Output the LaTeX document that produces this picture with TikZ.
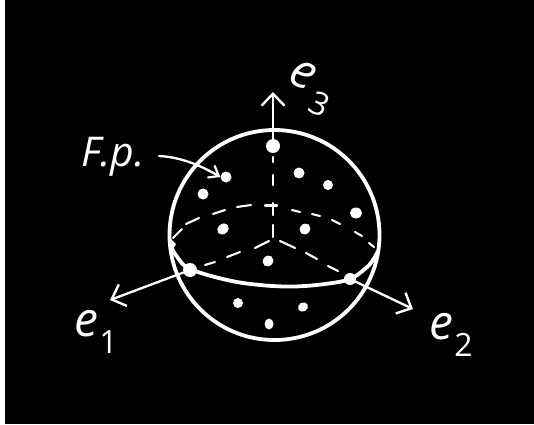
\documentclass[tikz,border=0pt]{standalone}
\usepackage{fontspec}
\setmainfont{Open Sans}
\usetikzlibrary{arrows.meta}
\tikzset{
  ink/.style={draw=white,line cap=round,line join=round},
  thick ink/.style={ink,line width=3.8pt},
  axisline/.style={ink,line width=2.3pt},
  dashes/.style={ink,line width=2.1pt},
  barb/.style={-{Straight Barb[length=12pt,width=23pt,line width=2.4pt]}},
  spot/.style={circle,fill=white,inner sep=0pt,minimum size=11pt},
  bigspot/.style={circle,fill=white,inner sep=0pt,minimum size=14pt},
  hand/.style={text=white,inner sep=0pt,font=\itshape\fontsize{48}{48}\selectfont}
}
\newcommand{\lowidx}[2][1pt]{\kern#1\raisebox{-.36em}{\fontsize{32}{32}\selectfont\upshape #2}}
\begin{document}
\begin{tikzpicture}[x=1pt,y=-1pt]
\useasboundingbox (0,0) rectangle (534,424);
\fill[white] (0,0) rectangle (5,424);
\fill[black] (5,0) rectangle (534,424);
% sphere
\node[circle,thick ink,minimum size=210pt,inner sep=0pt] (sphere) at (274.5,235) {};
% named points
\coordinate (o) at (273,238);
\node[bigspot] (top) at (273,146) {};
\node[bigspot] (left) at (190,270) {};
\node[bigspot,minimum size=12pt] (right) at (350,279) {};
\coordinate (tip3) at (273,92);
\coordinate (tip1) at (110,300);
\coordinate (tip2) at (413,309);
% solid axes
\draw[axisline,barb] (top) -- (tip3);
\draw[axisline,barb] (left) -- (tip1);
\draw[axisline,barb] (right) -- (tip2);
% hidden axes
\draw[dashes] (273,157)--(273,162) (273,175)--(273,185) (273,203)--(273,215) (265,205.5)--(277,205.5) (273,225)--(273,237);
\draw[dashes] (269,241)--(255,248) (240,252)--(227,257) (215,262)--(205,265);
\draw[dashes] (280,241)--(295,248) (306,253)--(317,259) (328,266)--(338,271);
% equator, back
\draw[dashes] (173,238)--(182,229) (186,224)--(199,218) (213,214)--(225,210) (237,207)--(251,205)
  (292,210)--(300,212) (312,214)--(320,216) (332,220)--(340,224) (355,232)--(362,236) (369,243)--(374,247);
\fill[white] (170,238)--(176,244)--(173,249)--cycle;
% equator, front
\draw[thick ink] plot[smooth,tension=.6] coordinates {(171,247) (178,258) (190,269) (227,280) (260,285) (293,286.5) (325,284) (350,279) (366,268) (373,260) (378,251)};
% sampled points
\node[spot] (p1) at (226,177) {};
\node[spot] (p2) at (203,194) {};
\node[spot,rotate=40,minimum size=10pt,xscale=1.25] (p3) at (223,229) {};
\node[spot] (p4) at (299,173) {};
\node[spot,minimum size=10pt] (p5) at (328,185) {};
\node[spot,xscale=1.1] (p6) at (356,213) {};
\node[spot,rotate=50,xscale=1.15,minimum size=10pt] (p7) at (305,229) {};
\node[spot,rotate=50,xscale=1.15,minimum size=10pt] (p8) at (268,261) {};
\node[spot,minimum size=10pt] (p9) at (238,303) {};
\node[spot,rotate=30,xscale=1.15,minimum size=9pt] (p10) at (303,307) {};
\node[spot,rotate=90,xscale=1.2,minimum size=9pt] (p11) at (269,324) {};
% labels
\node[hand] (e1) at (96,332) {e\lowidx{1}};
\node[hand] (e2) at (451,335) {e\lowidx{2}};
\node[hand,rotate=-25] (e3) at (310,88) {e\lowidx[6pt]{3}};
\node[hand,font=\itshape\fontsize{41}{41}\selectfont] (fp) at (113,157) {F.p.};
\coordinate (c1) at (159,156);
\draw[axisline,-{Straight Barb[length=9pt,width=14pt,line width=2.2pt]}] (c1) .. controls (180,157) and (200,165) .. (p1.west);
\end{tikzpicture}
\end{document}
